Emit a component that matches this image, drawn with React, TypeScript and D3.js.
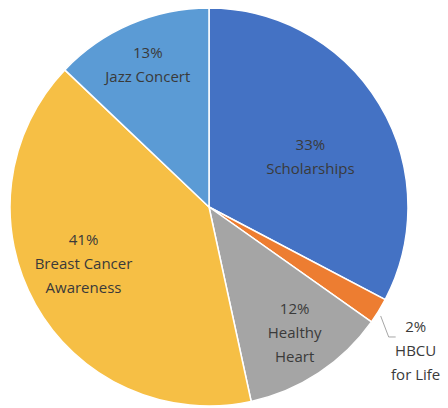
import React from 'react';
import * as d3 from 'd3';

// slice data, clockwise from 12 o'clock
const categories = ['Scholarships', 'HBCU for Life', 'Healthy Heart', 'Breast Cancer Awareness', 'Jazz Concert'];
const shares = [32.7, 2.1, 11.8, 40.5, 12.9];
const labelLines = [['Scholarships'], ['HBCU', 'for Life'], ['Healthy', 'Heart'], ['Breast Cancer', 'Awareness'], ['Jazz Concert']];
const colors = ['#4472C4', '#ED7D31', '#A5A5A5', '#F6BF45', '#5B9BD5'];

const width = 448;
const height = 408;
const cx = 209;
const cy = 207;
const radius = 199;
const lineH = 24;
// where each inside label sits: fraction of radius, and a nudge (degrees) off the slice middle
const labelRadius = [0.57, 0, 0.76, 0.69, 0.78];
const labelTurn = [4.5, 0, -1, 5.4, 0];

const App = () => {
  const pie = d3.pie<number>().sort(null).value(d => d);
  const arcs = pie(shares);
  const arc = d3.arc<d3.PieArcDatum<number>>().innerRadius(0).outerRadius(radius);
  const pct = d3.format('.0f');

  return (
    <svg width={width} height={height} style={{ position: 'absolute', left: 0, top: 0, background: '#fff' }}>
      <g transform={`translate(${cx},${cy})`}>
        {arcs.map((a, i) => (
          <path key={categories[i]} d={arc(a) || ''} fill={colors[i]} stroke="#fff" strokeWidth={1.5} />
        ))}
        {arcs.map((a, i) => {
          const mid = (a.startAngle + a.endAngle) / 2;
          const lines = [`${pct(shares[i])}%`, ...labelLines[i]];
          const style = { fontFamily: '"Open Sans", sans-serif', fontSize: 15, fill: '#3a3a3a' };
          if (i === 1) {
            // small slice: label outside with a leader line
            const sx = Math.sin(mid) * radius + 2;
            const sy = -Math.cos(mid) * radius + 5;
            const ex = sx + 8;
            const ey = sy + 21;
            const tx = ex + 27;
            return (
              <g key={categories[i]}>
                <polyline points={`${sx},${sy} ${ex},${ey} ${ex + 7},${ey}`} fill="none" stroke="#A6A6A6" strokeWidth={1} />
                {lines.map((t, j) => (
                  <text key={j} x={tx} y={ey - 11 + j * lineH} textAnchor="middle" dominantBaseline="central" style={style}>{t}</text>
                ))}
              </g>
            );
          }
          const r = radius * labelRadius[i];
          const ang = mid + (labelTurn[i] * Math.PI) / 180;
          const x = Math.sin(ang) * r;
          const y = -Math.cos(ang) * r;
          const top = y - ((lines.length - 1) * lineH) / 2;
          return (
            <g key={categories[i]}>
              {lines.map((t, j) => (
                <text key={j} x={x} y={top + j * lineH} textAnchor="middle" dominantBaseline="central" style={style}>{t}</text>
              ))}
            </g>
          );
        })}
      </g>
    </svg>
  );
};

export default App;
